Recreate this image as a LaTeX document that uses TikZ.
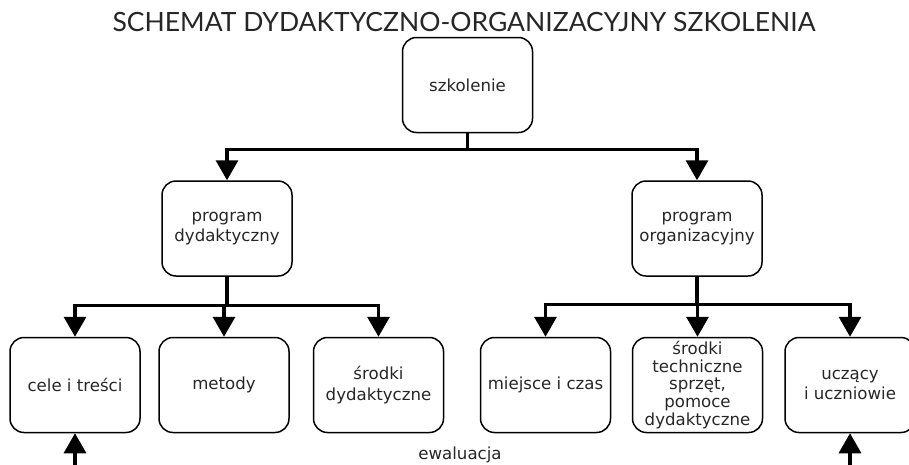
\documentclass[tikz,border=0pt]{standalone}
\usepackage{fontspec}
\setmainfont{DejaVu Sans}
\newfontfamily\titlefont{Lato}
\usetikzlibrary{arrows.meta}
\tikzset{
    block/.style = {draw, rectangle, rounded corners=14pt, line width=1.5pt,
        minimum height=95pt, minimum width=130pt, inner sep=3pt, align=center,
        font=\fontsize{16.6}{20.7}\selectfont, text=black!85},
    arrow/.style = {draw, line width=3.3pt, -{Triangle[width=22pt,length=20pt]}},
    heading/.style = {font=\titlefont\fontsize{26.5}{30}\selectfont, text=black!85},
    evtext/.style = {font=\fontsize{16.6}{20.7}\selectfont, text=black!85}
}

\begin{document}
\begin{tikzpicture}[x=1pt, y=-1pt]
    \useasboundingbox (0,0) rectangle (909,464);
    \node [heading, name=title] at (464,22) {SCHEMAT DYDAKTYCZNO-ORGANIZACYJNY SZKOLENIA};
    \node [block, name=szkolenie] at (467.5,85) {szkolenie};
    \node [block, below of=szkolenie, node distance=143.5pt, xshift=-240.5pt, name=progdyd] {program\\dydaktyczny};
    \node [block, right of=progdyd, node distance=470pt, name=progorg] {program\\organizacyjny};
    \node [block, below of=progdyd, node distance=156.5pt, xshift=-152pt, name=cele] {cele i treści};
    \node [block, right of=cele, node distance=149pt, name=metody] {metody};
    \node [block, right of=metody, node distance=154.5pt, name=srodkid] {środki\\dydaktyczne};
    \node [block, right of=srodkid, node distance=167pt, name=miejsce] {miejsce i czas};
    \node [block, right of=miejsce, node distance=152pt, name=srodkit, font=\fontsize{16.6}{17.8}\selectfont, inner sep=1pt]
        {środki\\techniczne\\sprzęt,\\pomoce\\dydaktyczne};
    \node [block, right of=srodkit, node distance=152.5pt, name=uczacy] {uczący\\i uczniowie};
    \draw [arrow] (szkolenie.south) -- ++(0,16) -| (progdyd);
    \draw [arrow] (szkolenie.south) -- ++(0,16) -| (progorg);
    \foreach \n in {cele,metody,srodkid}{
        \draw [arrow] (progdyd.south) -- ++(0,29) -| (\n);
    }
    \foreach \n in {miejsce,srodkit,uczacy}{
        \draw [arrow] (progorg.south) -- ++(0,28) -| (\n);
    }
    \node [evtext, name=ewaluacja] at (460,455) {ewaluacja};
    \coordinate [below of=cele, node distance=85pt] (ev1);
    \coordinate [below of=uczacy, node distance=85pt] (ev2);
    \draw [arrow] (ev1) -- (cele);
    \draw [arrow] (ev2) -- (uczacy);
\end{tikzpicture}
\end{document}
